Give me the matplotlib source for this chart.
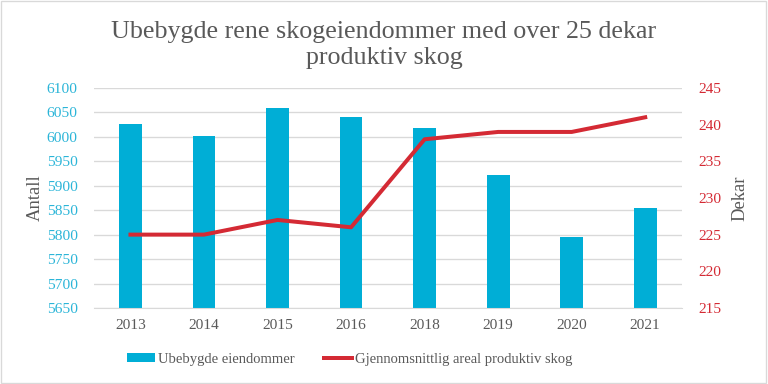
import matplotlib
matplotlib.use("Agg")
import matplotlib.pyplot as plt
from matplotlib.patches import Rectangle
import numpy as np

# data
years = ["2013", "2014", "2015", "2016", "2018", "2019", "2020", "2021"]
ubebygde = [6026, 6002, 6059, 6040, 6018, 5922, 5795, 5854]
areal = [225, 225, 227, 226, 238, 239, 239, 241]

left_ticks = [5650, 5700, 5750, 5800, 5850, 5900, 5950, 6000, 6050, 6100]
right_ticks = [215, 220, 225, 230, 235, 240, 245]

bar_color = "#00AED6"
line_color = "#D42A34"
grey = "#595959"

plt.rcParams["font.family"] = ["Liberation Serif", "DejaVu Serif"]

fig = plt.figure(figsize=(8, 4), dpi=96)
fig.patches.append(Rectangle((0.001, 0.002), 0.997, 0.995, transform=fig.transFigure,
                             fill=False, edgecolor="#D9D9D9", linewidth=1))

ax = fig.add_axes([0.122, 0.198, 0.766, 0.573])
x = np.arange(len(years))
ax.bar(x, ubebygde, width=0.31, color=bar_color, zorder=2, label="Ubebygde eiendommer")
ax.set_ylim(5650, 6100)
ax.set_yticks(left_ticks)
ax.set_xlim(-0.5, len(years) - 0.5)
ax.set_xticks(x)
ax.set_xticklabels(years)
ax.grid(axis="y", color="#D9D9D9", linewidth=1, zorder=0)
ax.set_axisbelow(True)
for s in ax.spines.values():
    s.set_visible(False)
ax.spines["bottom"].set_visible(True)
ax.spines["bottom"].set_color("#D9D9D9")
ax.tick_params(axis="y", colors="#2BB5D8", labelsize=11.5, length=0, pad=12)
ax.tick_params(axis="x", colors=grey, labelsize=11.5, length=0, pad=8)
ax.set_ylabel("Antall", color=grey, fontsize=14, labelpad=2)

ax2 = ax.twinx()
ax2.plot(x, areal, color=line_color, linewidth=3, zorder=3,
         label="Gjennomsnittlig areal produktiv skog")
ax2.set_ylim(215, 245)
ax2.set_yticks(right_ticks)
for s in ax2.spines.values():
    s.set_visible(False)
ax2.tick_params(axis="y", colors=line_color, labelsize=11.5, length=0, pad=12)
ax2.set_ylabel("Dekar", color=grey, fontsize=14, labelpad=8)

fig.suptitle("Ubebygde rene skogeiendommer med over 25 dekar\nproduktiv skog",
             y=0.945, fontsize=19.5, color=grey, linespacing=1.25)

h1, l1 = ax.get_legend_handles_labels()
h2, l2 = ax2.get_legend_handles_labels()
fig.legend(h1 + h2, l1 + l2, loc="center", bbox_to_anchor=(0.455, 0.065), ncol=2,
           frameon=False, fontsize=11, labelcolor=grey, handlelength=1.9,
           handleheight=0.5, handletextpad=0.2, columnspacing=2)

fig.savefig("out.png", dpi=96)
